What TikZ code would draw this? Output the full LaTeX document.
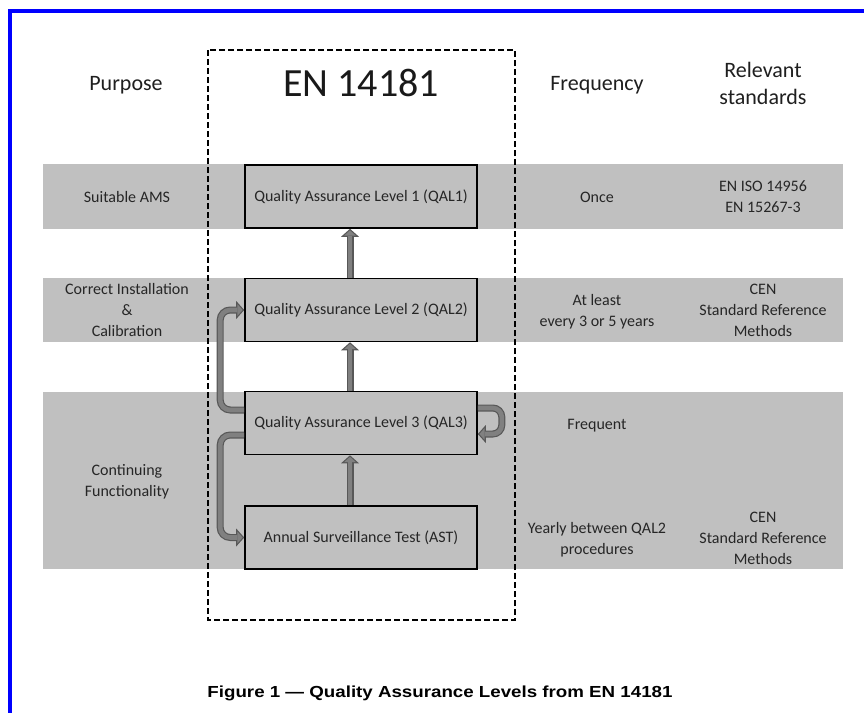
\documentclass[tikz,border=0pt]{standalone}
\usepackage{fontspec}
\setmainfont{Carlito}
\newfontfamily\capfont[FakeStretch=1.17]{Liberation Sans}
\usetikzlibrary{arrows.meta}
\definecolor{bandgray}{RGB}{192,192,192}
\definecolor{arrfill}{RGB}{128,128,128}
\definecolor{arrline}{RGB}{88,88,88}
\definecolor{txt}{RGB}{38,38,38}
\definecolor{frameblue}{RGB}{0,0,255}
\tikzset{
  qbox/.style={draw=black, line width=1.6pt, fill=bandgray, minimum width=232pt,
    minimum height=63pt, inner sep=0pt, text=txt, font=\fontsize{16}{20}\selectfont},
  lbl/.style={align=center, anchor=base, text=txt, font=\fontsize{16}{21}\selectfont},
  hdr/.style={align=center, anchor=base, text=black!88, font=\fontsize{22}{27}\selectfont},
  fatouter/.style={line width=7pt, draw=arrline, rounded corners=10pt,
    -{Triangle[width=18pt,length=8pt,line width=0pt]}},
  fatinner/.style={line width=4.6pt, draw=arrfill, rounded corners=10pt,
    shorten >=1.6pt, -{Triangle[width=11.7pt,length=5.2pt,line width=0pt]}},
}
\newcommand\fatarr[2][]{\draw[fatouter,#1] #2; \draw[fatinner,#1] #2;}
\begin{document}
\begin{tikzpicture}[x=1pt,y=-1pt]
\useasboundingbox (0,0) rectangle (864,713);
\fill[white] (0,0) rectangle (864,713);
% frame
\draw[frameblue, line width=4pt] (8,11) -- (864,11);
\draw[frameblue, line width=4pt] (10,9) -- (10,713);
% bands
\fill[bandgray] (43,164) rectangle (843,229);
\fill[bandgray] (43,278) rectangle (843,342);
\fill[bandgray] (43,392) rectangle (843,569);
% dashed frame
\draw[line width=1.6pt, dash pattern=on 6pt off 3pt] (208,50) rectangle (515,620);
% headers
\node[hdr] (hp) at (126,90) {Purpose};
\node[anchor=base, text=black!90, font=\fontsize{40}{48}\selectfont] (hen) at (361,96) {EN 14181};
\node[hdr] (hf) at (597,90) {Frequency};
\node[hdr] (hr) at (763,104) {Relevant\\standards};
% boxes
\node[qbox] (q1) at (361,196.5) {Quality Assurance Level 1 (QAL1)};
\node[qbox] (q2) at (361,310) {Quality Assurance Level 2 (QAL2)};
\node[qbox] (q3) at (361,423) {Quality Assurance Level 3 (QAL3)};
\node[qbox] (ast) at (361,537.5) {Annual Surveillance Test (AST)};
% arrows
\fatarr{([xshift=-11pt]q2.north) -- ([xshift=-11pt]q1.south)}
\fatarr{([xshift=-11pt]q3.north) -- ([xshift=-11pt]q2.south)}
\fatarr{([xshift=-11pt]ast.north) -- ([xshift=-11pt]q3.south)}
\fatarr{([yshift=13pt]q3.west) -- ++(-24,0) |- (q2.west)}
\fatarr{([yshift=-12pt]q3.west) -- ++(-24,0) |- (ast.west)}
\fatarr[rounded corners=9pt]{([yshift=15pt]q3.east) -- ++(24,0) |- ([yshift=-11pt]q3.east)}
% purpose
\node[lbl] (p1) at (127,202) {Suitable AMS};
\node[lbl] (p2) at (127,336) {Correct Installation\\\&\\Calibration};
\node[lbl] (p3) at (127,496) {Continuing\\Functionality};
% frequency
\node[lbl] (f1) at (597,202) {Once};
\node[lbl] (f2) at (597,326) {At least\\every 3 or 5 years};
\node[lbl] (f3) at (597,429) {Frequent};
\node[lbl] (f4) at (597,554) {Yearly between QAL2\\procedures};
% standards
\node[lbl] (s1) at (763,212) {EN ISO 14956\\EN 15267-3};
\node[lbl] (s2) at (763,336) {CEN\\Standard Reference\\Methods};
\node[lbl] (s4) at (763,564) {CEN\\Standard Reference\\Methods};
% caption
\node[anchor=base, font=\capfont\bfseries\fontsize{16}{20}\selectfont] (cap) at (440,697)
  {Figure 1 — Quality Assurance Levels from EN 14181};
\end{tikzpicture}
\end{document}
